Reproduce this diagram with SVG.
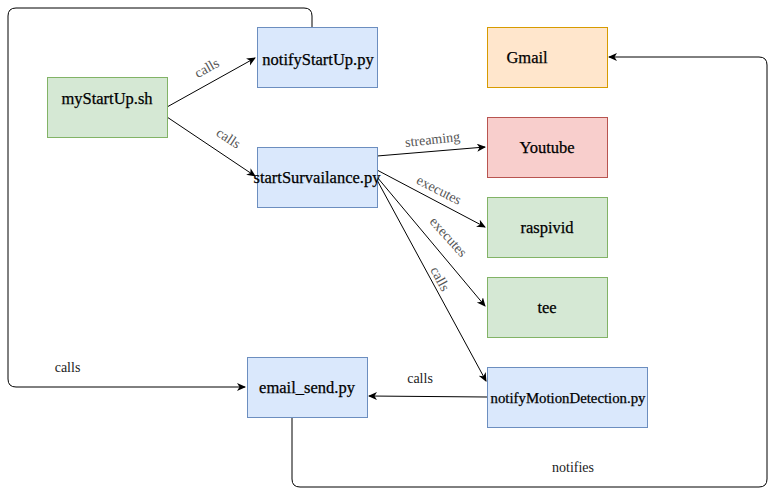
<svg xmlns="http://www.w3.org/2000/svg" width="776" height="496" viewBox="0 0 776 496" font-family="Liberation Serif, serif">
<style>
.blue{fill:#dae8fc;stroke:#6c8ebf}
.green{fill:#d5e8d4;stroke:#82b366}
.red{fill:#f8cecc;stroke:#b85450}
.orange{fill:#ffe6cc;stroke:#d79b00}
.t{font-family:'Liberation Serif',serif;font-size:16.5px;fill:#000;stroke:#000;stroke-width:0.25;text-anchor:middle}
.e{fill:none;stroke:#000;stroke-width:1}
.l{font-family:'Liberation Serif',serif;font-size:14px;fill:#555;text-anchor:middle}
.l2{font-family:'Liberation Serif',serif;font-size:14px;fill:#222;text-anchor:middle}
</style>
<defs>
<marker id="a" markerWidth="10" markerHeight="10" refX="8" refY="4" orient="auto" markerUnits="userSpaceOnUse">
<path d="M0,0 L9,4 L0,8 L2.5,4 z" fill="#000"/>
</marker>
</defs>
<rect width="776" height="496" fill="#fff"/>
<g id="connectors">
<path class="e" d="M167,107 L255,58" marker-end="url(#a)"/>
<path class="e" d="M167,117 L255,176" marker-end="url(#a)"/>
<path class="e" d="M377,156 L485,147" marker-end="url(#a)"/>
<path class="e" d="M377,170 L485,227" marker-end="url(#a)"/>
<path class="e" d="M377,177 L485,306" marker-end="url(#a)"/>
<path class="e" d="M377,180 L486,381" marker-end="url(#a)"/>
<path class="e" d="M487,397 L369,396" marker-end="url(#a)"/>
<path class="e" d="M312,27 L312,16 Q312,8 304,8 L16,8 Q8,8 8,16 L8,379 Q8,387 16,387 L245,387" marker-end="url(#a)"/>
<path class="e" d="M292,417 L292,479 Q292,487 300,487 L759,487 Q767,487 767,479 L767,65 Q767,57 759,57 L609,57" marker-end="url(#a)"/>
<text class="l" transform="translate(209,72) rotate(-29)">calls</text>
<text class="l" transform="translate(226,142) rotate(33)">calls</text>
<text class="l" transform="translate(433,144) rotate(-6)">streaming</text>
<text class="l" transform="translate(437,194) rotate(27)">executes</text>
<text class="l" transform="translate(445,240) rotate(48)">executes</text>
<text class="l" transform="translate(436,281) rotate(62)">calls</text>
<text class="l2" x="420" y="383">calls</text>
<text class="l2" x="67.5" y="372">calls</text>
<text class="l2" x="573" y="472">notifies</text>
</g>
<g id="myStartUp"><rect class="green" x="47.5" y="77.5" width="120" height="60"/><text class="t" x="107" y="104">myStartUp.sh</text></g>
<g id="notifyStartUp"><rect class="blue" x="257.5" y="27.5" width="120" height="60"/><text class="t" x="318" y="65">notifyStartUp.py</text></g>
<g id="startSurvailance"><rect class="blue" x="257.5" y="147.5" width="120" height="60"/><text class="t" x="317" y="183">startSurvailance.py</text></g>
<g id="gmail"><rect class="orange" x="487.5" y="27.5" width="120" height="60"/><text class="t" x="527" y="63">Gmail</text></g>
<g id="youtube"><rect class="red" x="487.5" y="117.5" width="120" height="60"/><text class="t" x="547" y="153">Youtube</text></g>
<g id="raspivid"><rect class="green" x="487.5" y="197.5" width="120" height="60"/><text class="t" x="547" y="233">raspivid</text></g>
<g id="tee"><rect class="green" x="487.5" y="277.5" width="120" height="60"/><text class="t" x="547" y="313">tee</text></g>
<g id="email_send"><rect class="blue" x="247.5" y="357.5" width="120" height="60"/><text class="t" x="307" y="393">email_send.py</text></g>
<g id="notifyMotionDetection"><rect class="blue" x="487.5" y="367.5" width="160" height="60"/><text class="t" x="568" y="403" style="font-size:14.8px">notifyMotionDetection.py</text></g>
</svg>
